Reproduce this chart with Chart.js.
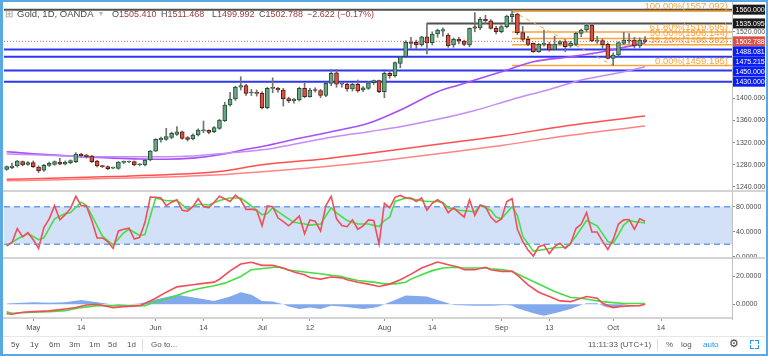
<!DOCTYPE html>
<html>
<head>
<meta charset="utf-8">
<script src="https://cdn.jsdelivr.net/npm/chart.js@4.4.1/dist/chart.umd.min.js"></script>
<style>
html,body{margin:0;padding:0;background:#fff;}
#wrap{position:relative;width:768px;height:356px;overflow:hidden;background:#fff;font-family:"Liberation Sans",Arial,sans-serif;}
#wrap canvas{position:absolute;left:0;}
.sep{position:absolute;background:#d4d4d4;}
.hd{position:absolute;top:8px;font-size:9px;line-height:12px;white-space:nowrap;color:#4a4a4a;}
.hd b{font-weight:normal;color:#973f3a;}
.tb{position:absolute;top:340px;font-size:8px;line-height:10px;color:#555;white-space:nowrap;}
#frame{position:absolute;left:0;top:0;width:768px;height:356px;box-sizing:border-box;border:2px solid #5aa9e4;border-left-width:3px;pointer-events:none;}
</style>
</head>
<body>
<div id="wrap">
<canvas id="cMain" width="768" height="191" style="top:0;width:768px;height:191px"></canvas>
<canvas id="cStoch" width="768" height="71" style="top:191px;width:768px;height:71px"></canvas>
<canvas id="cMacd" width="768" height="80" style="top:258px;width:768px;height:80px"></canvas>

<div class="sep" style="left:3px;top:190px;width:762px;height:2px"></div>
<div class="sep" style="left:3px;top:257px;width:762px;height:2px"></div>
<div class="sep" style="left:3px;top:317px;width:730px;height:2px"></div>
<div class="sep" style="left:732px;top:0;width:1px;height:320px;background:#c2c2c2"></div>
<div class="sep" style="left:3px;top:336px;width:762px;height:1px;background:#e6e6e6"></div>

<div class="hd" style="left:5px;color:#9a9a9a;font-size:10px">&#8862;</div>
<div class="hd" style="left:17px;font-size:9.5px">Gold, 1D, OANDA</div>
<div class="hd" style="left:99px;color:#b5b5b5;font-size:8px">&#9662;</div>
<div class="hd" style="left:112px">O<b>1505.410</b></div>
<div class="hd" style="left:161px">H<b>1511.468</b></div>
<div class="hd" style="left:212px">L<b>1499.992</b></div>
<div class="hd" style="left:259px">C<b>1502.788</b></div>
<div class="hd" style="left:307px"><b>&#8722;2.622 (&#8722;0.17%)</b></div>

<div class="tb" style="left:11px">5y</div>
<div class="tb" style="left:30px">1y</div>
<div class="tb" style="left:49px">6m</div>
<div class="tb" style="left:69px">3m</div>
<div class="tb" style="left:89px">1m</div>
<div class="tb" style="left:108px">5d</div>
<div class="tb" style="left:127px">1d</div>
<div class="sep" style="left:142px;top:339px;width:1px;height:12px;background:#dcdcdc"></div>
<div class="tb" style="left:151px">Go to...</div>
<div class="tb" style="left:588px">11:11:33 (UTC+1)</div>
<div class="sep" style="left:657px;top:339px;width:1px;height:12px;background:#dcdcdc"></div>
<div class="tb" style="left:666px">%</div>
<div class="tb" style="left:681px">log</div>
<div class="tb" style="left:703px;color:#2196f3">auto</div>
<div class="tb" style="left:729px;font-size:11px;top:338px;color:#444">&#9881;</div>
<div style="position:absolute;left:750px;top:340px;width:9px;height:9px;">
  <div style="position:absolute;left:0;top:0;width:3px;height:3px;border-left:1.5px solid #2196f3;border-top:1.5px solid #2196f3"></div>
  <div style="position:absolute;right:0;top:0;width:3px;height:3px;border-right:1.5px solid #2196f3;border-top:1.5px solid #2196f3"></div>
  <div style="position:absolute;left:0;bottom:0;width:3px;height:3px;border-left:1.5px solid #2196f3;border-bottom:1.5px solid #2196f3"></div>
  <div style="position:absolute;right:0;bottom:0;width:3px;height:3px;border-right:1.5px solid #2196f3;border-bottom:1.5px solid #2196f3"></div>
</div>
<div id="frame"></div>
</div>

<script>
// ---------------- DATA ----------------
const firstBar = -5; // first candle = 24 Apr 2019 (bar 0 = 1 May)
const O = [1271.7,1274.8,1277.8,1285.6,1280.8,1283.8,1276.0,1270.5,1279.0,1280.8,
 1285.0,1281.0,1283.8,1285.6,1298.8,1297.6,1295.8,1286.8,1277.8,1276.6,
 1274.0,1273.6,1284.5,1285.0,1285.6,1280.0,1279.6,1288.6,1304.8,1324.7,
 1325.9,1329.5,1334.9,1339.7,1328.9,1326.5,1333.7,1341.5,1342.0,1339.7,
 1345.8,1359.6,1388.0,1398.8,1420.0,1422.8,1409.5,1410.5,1409.0,1383.1,
 1418.0,1418.0,1415.0,1399.5,1395.7,1397.0,1418.0,1403.0,1415.0,1414.0,
 1405.0,1427.0,1446.0,1425.5,1425.0,1417.0,1425.0,1415.0,1418.0,1428.0,
 1431.8,1412.0,1445.0,1441.0,1463.0,1475.0,1501.0,1501.0,1497.0,1511.0,
 1500.5,1516.0,1521.0,1514.0,1496.5,1507.0,1503.4,1496.2,1529.0,1527.0,
 1542.5,1540.0,1526.3,1520.2,1529.3,1547.5,1552.0,1518.4,1506.4,1499.2,
 1484.1,1497.4,1498.0,1488.4,1498.0,1502.2,1494.4,1497.4,1517.2,1523.2,
 1532.3,1503.4,1504.2,1497.4,1472.1,1478.1,1499.2,1505.2,1505.2,1494.4,
 1505.41];
const H = [1278,1283,1288,1287,1286,1287,1278,1281,1285,1287,
 1291.6,1287,1289,1302,1300.5,1299,1297,1288,1279,1278,
 1276,1286,1287,1286.5,1287,1282,1290,1306,1327,1330,
 1345.8,1339,1348.8,1341,1331,1336,1345,1359,1343,1349,
 1362,1393,1411,1422,1439,1425,1416,1415,1412,1420,
 1437,1420,1418,1402,1400,1420,1428,1418,1419,1416,
 1428,1452,1452,1428,1427,1428,1433,1421,1430,1433,
 1433,1448,1450,1466,1475,1504,1510,1505,1512,1535.095,
 1520,1525,1527,1517,1509,1510,1505,1527,1554.5,1546,
 1550,1542,1530,1532,1550,1557.092,1554,1530,1512,1500,
 1499,1523,1501,1512,1504,1506,1503,1519,1525,1535,
 1535,1512,1507,1500,1482,1502,1519,1517,1510,1509,
 1511.468];
const L = [1270,1273,1276,1278,1279,1275,1266,1268,1277,1279,
 1280,1280,1282,1284,1294,1292,1284,1276,1275,1271,
 1273,1272,1282,1284,1278,1278,1278,1287,1304,1321,
 1324,1327,1333,1326,1323,1325,1332,1338,1336,1338,
 1344,1358,1386,1396,1415,1405,1405,1404,1381,1381,
 1410,1411,1386,1392,1391,1395,1401,1402,1411,1401,
 1403,1423,1420,1420,1413,1413,1411,1412,1416,1425,
 1410,1401,1436,1438,1455,1473,1490,1490,1494,1480,
 1496,1510,1512,1492,1492,1498,1495,1493,1520,1524,
 1535,1525,1516,1518,1527,1537,1515,1503,1495,1483,
 1483,1494,1485,1487,1496,1484.1,1492,1495,1511,1520,
 1502,1499,1490,1471,1459.195,1476,1497,1499,1491,1491,
 1499.992];
const C = [1276.6,1277.8,1286.8,1279.6,1283.8,1276.6,1269.3,1279.0,1282.6,1285.6,
 1281.0,1285.0,1287.4,1299.4,1296.4,1294.6,1285.6,1277.8,1276.6,1272.9,
 1274.8,1285.0,1285.5,1285.6,1279.6,1280.5,1288.6,1304.8,1325.9,1327.7,
 1330.7,1336.7,1339.7,1327.7,1325.9,1333.7,1342.7,1342.0,1338.5,1347.0,
 1360.8,1387.9,1398.8,1419.8,1423.0,1409.0,1410.5,1409.0,1383.1,1418.0,
 1418.6,1415.0,1399.5,1395.5,1398.8,1418.0,1403.0,1415.0,1414.0,1405.0,
 1427.0,1445.0,1425.5,1426.0,1417.0,1425.0,1413.2,1419.0,1428.0,1431.8,
 1412.0,1445.0,1441.0,1464.3,1475.0,1501.0,1499.0,1496.5,1511.0,1500.0,
 1516.0,1523.0,1524.0,1495.0,1506.4,1503.4,1497.4,1526.3,1526.5,1542.5,
 1540.0,1526.3,1520.2,1529.3,1548.5,1552.0,1518.4,1506.4,1497.4,1484.1,
 1497.4,1499.2,1487.2,1498.0,1502.2,1493.2,1499.2,1517.2,1523.2,1532.3,
 1503.4,1504.2,1496.2,1472.1,1478.1,1500.4,1505.2,1503.4,1494.4,1505.2,
 1502.788];

// moving averages (bar, value)
const maA_bars = [-5,0,5,10,15,20,25,30,35,40,43,50,56,63,69,76,80,83,88,94,101,107,113,115];
const maA_vals = [1303.6,1300,1297,1294,1292,1290.5,1290,1292,1298,1308,1313,1327.8,1339.7,1354.9,1378.9,1411.9,1424,1433,1448,1466,1475,1484,1496,1500];
const maB_bars = [-5,0,5,10,15,20,25,30,35,40,43,50,56,63,69,76,83,90,97,103,111,115];
const maB_vals = [1299.5,1298,1296.5,1295,1294.5,1294.5,1294.5,1296,1300,1304,1307,1318.8,1329.6,1339.7,1348.7,1362,1378,1398,1416,1433,1448,1457];
const maC_bars = [-5,5,15,25,35,43,55,65,76,88,100,115];
const maC_vals = [1253.8,1256,1259,1262,1268,1280,1291,1303,1317,1332,1350,1368];
const maD_bars = [-5,5,15,25,35,43,55,65,76,88,100,115];
const maD_vals = [1251.3,1253,1255.5,1258,1262,1267.5,1277,1287,1300,1315,1332,1350];

// drawn levels
const grayLevels = [1560.000, 1535.095];
const grayStartBars = [null, 74];
const blueLevels = [1488.081, 1475.215, 1450.000, 1430.000];
const lastPrice = 1502.788;
const fibPrices = [1557.092, 1519.695, 1508.144, 1496.592, 1459.195];
const fibNames = ['100.00%', '61.80%', '50.00%', '38.20%', '0.00%'];
const fibStartBar = 90, fibEndBar = 109;

// stochastic
const stochK = [17.2,22.8,45.0,31.6,38.3,27.2,13.3,46.7,60.5,81.7,
 58.9,67.2,77.2,96.6,81.7,81.1,57.8,30.0,30.0,24.0,
 13.3,41.1,43.9,45.5,28.3,31.1,55.0,95.5,95.0,93.9,
 81.7,87.2,91.1,74.4,72.8,80.0,92.8,80.0,78.3,87.2,
 96.6,92.8,88.3,98.5,91.1,75.5,76.1,74.4,49.4,81.1,
 80.0,62.2,56.1,49.4,57.0,65.0,36.7,58.9,56.7,41.1,
 81.7,96.6,60.5,50.0,48.0,58.9,43.9,49.4,58.9,57.8,
 20.5,85.5,78.3,95.0,98.0,93.9,93.9,88.3,93.9,74.4,
 85.5,91.1,85.5,70.5,78.3,70.5,63.3,91.1,66.1,82.8,
 80.0,63.3,55.0,60.5,88.3,92.8,43.9,24.4,10.5,1.0,
 16.1,18.9,5.0,16.1,21.6,13.3,20.5,45.0,52.2,70.5,
 39.4,39.4,24.4,11.6,27.2,52.2,58.9,59.4,43.9,60.5,
 56.7];
const stochD_bars = [-5,-3,-1,1,2,4,6,7,9,10,11,13,15,17,18,20,21,23,25,27,29,31,33,35,37,39,41,43,44,45,47,49,51,52,54,56,57,59,61,63,65,66,67,68,70,72,74,76,77,78,79,80,82,83,84,86,87,88,90,91,92,94,96,98,100,101,102,104,106,108,109,110,111,112,113,114,115];
const stochD_vals = [17.2,28.3,37.2,27.2,30,60.5,68.9,70.5,87.2,81.7,66.1,32.8,18.9,38.3,43.9,33.9,35.5,93.9,89.4,90,76.1,83.9,82.8,90,93.9,93.9,81.1,67.2,68.9,78.3,66.1,55,52.2,50.5,52.2,78.3,70,57.8,52.2,52.2,48.3,57.8,63.3,88.3,93.9,91.1,88.3,88.3,86.7,78.3,76.1,74.4,72.8,71.7,81.7,74.4,63.3,60.5,80,66.1,32.8,8.9,11.6,14.4,15,21.6,32.8,57.8,49.4,24.4,21.6,35.5,50.5,57.8,56.1,55,53.9];
const stochBand = [20, 80];

// MACD
const macd_bars = [-5,-4,-2,0,3,6,8,10,12,15,17,20,21,23,25,27,30,32,34,35,37,39,41,43,45,47,49,51,52,54,56,58,59,61,63,65,67,69,71,73,75,76,78,80,81,83,85,86,88,90,91,93,95,97,99,101,102,104,106,107,109,110,112,114,115];
const macd_vals = [-6.8,-7.2,-5.8,-5.3,-4.8,-3.4,-2.4,-0.5,0,-2.4,-1.7,-1,0.5,4.3,8.7,12.5,14,15,15.9,18,24,29,30.2,28,28,26.1,23.2,21.3,19.3,18.1,19.6,19,17.6,15.9,14.5,12.8,14.5,17.6,21.7,26.1,29,30.4,28.5,26.6,24.9,24.9,26.6,24.9,23.7,23.7,21,14,8.7,5.6,2.4,1.9,3.1,5.6,4.3,0.7,-2.4,-1.7,-1.2,-1,0];
const signal_bars = [-5,-4,0,3,6,9,12,16,19,21,23,26,29,31,34,36,39,41,44,46,48,51,54,56,58,59,61,64,66,68,70,71,73,75,77,79,81,83,85,86,88,90,92,94,96,98,100,101,103,105,107,109,111,115];
const signal_vals = [-5.5,-6.5,-5.8,-5.3,-4.6,-2.4,-1,-1,-1,-1,1.9,4.8,9.2,11.1,13.3,15.2,20,24.9,26.1,26.8,24.6,23.2,22,20.8,20,18.8,17.1,15.9,14.7,14.7,15.9,18.1,21.3,24.2,26.1,26.6,26.1,26.1,26.1,25.6,24.9,23.7,20,16.4,12.8,9.2,6.3,4.8,4.3,3.1,1.9,1.2,0.5,0.5];
const hist_bars = [-5,-2,0,3,6,9,12,14,16,18,20,22,24,27,31,34,37,39,41,43,45,47,48,50,52,54,56,58,60,62,64,65,66,68,70,74,76,78,79,83,86,89,90,91,94,96,98,101,103,104,106,107,108,110,111,112,115];
const hist_vals = [0.5,1,1.4,1,1.5,3.1,1.5,0.3,-0.5,0,0.5,2.5,4.3,6.8,4.3,2.4,5.6,8.7,6.8,2.4,1.9,0,-1.7,-3.4,-2.4,-3.4,-1,-1.7,-2.5,-3.4,-2.5,-1.7,0,3.1,6.3,5.6,3.1,0.7,-0.5,-1,-1,-0.5,-1,-2.9,-6.5,-8.2,-6.5,-3.4,-0.5,0.7,0.7,-1,-2.4,-2.4,-0.5,0,0];

// axes
const priceTicks = [1240, 1280, 1320, 1360, 1400, 1520];
const stochTicks = [0, 40, 80];
const macdTicks = [0, 20];
const tickBars = [0, 9, 23, 32, 43, 52, 66, 75, 88, 97, 109, 118];
const tickLabels = ['May', '14', 'Jun', '14', 'Jul', '12', 'Aug', '14', 'Sep', '13', 'Oct', '14'];

// ---------------- LAYOUT / STYLE ----------------
const XMIN = -5.5, XMAX = 131.34;
const FONT = '"Liberation Sans", Arial, sans-serif';
const UP = '#6ba583', UPB = '#225437', DN = '#d75442', DNB = '#5b1a13', WICK = '#737375';
const ORANGE = '#f6a43c';

const bars = O.map((_, i) => firstBar + i);
const pts = (xs, ys) => xs.map((x, i) => ({x, y: ys[i]}));

function xAxis(show) {
  const ax = {
    type: 'linear', min: XMIN, max: XMAX, offset: false, display: show,
    grid: {drawOnChartArea: false, tickLength: 3, color: '#9a9a9a'},
    border: {display: false},
    afterFit: s => { s.paddingLeft = 0; s.paddingRight = 0; if (show) s.height = 20; }
  };
  if (show) {
    ax.afterBuildTicks = s => { s.ticks = tickBars.map(v => ({value: v})); };
    ax.ticks = {autoSkip: false, maxRotation: 0, padding: 2, color: '#4a4a4a',
      font: {size: 7.5, family: FONT}, callback: (v, i) => tickLabels[i]};
  }
  return ax;
}
function yAxis(min, max, ticks, dec) {
  return {
    type: 'linear', position: 'right', min, max,
    afterBuildTicks: s => { s.ticks = ticks.map(v => ({value: v})); },
    afterFit: s => { s.width = 36; s.paddingTop = 0; s.paddingBottom = 0; },
    ticks: {padding: 1, color: '#4a4a4a', font: {size: 7, family: FONT}, callback: v => Number(v).toFixed(dec)},
    grid: {drawOnChartArea: false, tickLength: 3, color: '#8a8a8a'},
    border: {display: false}
  };
}
const baseOpts = {responsive: false, animation: false, devicePixelRatio: 1, events: [],
  plugins: {legend: {display: false}, tooltip: {enabled: false}}};

// ---------------- MAIN OVERLAY ----------------
const mainOverlay = {
  id: 'mainOverlay',
  beforeDatasetsDraw(chart) {
    const {ctx, chartArea: a, scales: {x, y}} = chart;
    ctx.save();
    ctx.beginPath(); ctx.rect(a.left, 0, a.right - a.left, a.bottom); ctx.clip();
    const hl = (p, x0, color, w, dash) => {
      const yy = y.getPixelForValue(p);
      ctx.strokeStyle = color; ctx.lineWidth = w; ctx.setLineDash(dash || []);
      ctx.beginPath(); ctx.moveTo(x0, yy); ctx.lineTo(a.right, yy); ctx.stroke();
    };
    blueLevels.forEach(p => hl(p, a.left, '#2e36f0', 2));
    grayLevels.forEach((p, i) => hl(p, grayStartBars[i] === null ? a.left : x.getPixelForValue(grayStartBars[i]), '#4f4f4f', 2));
    const fx0 = x.getPixelForValue(fibStartBar);
    fibPrices.forEach(p => hl(p, fx0, ORANGE, 1.5));
    ctx.setLineDash([4, 4]); ctx.lineWidth = 1; ctx.strokeStyle = ORANGE;
    ctx.beginPath();
    ctx.moveTo(fx0, y.getPixelForValue(fibPrices[0]));
    ctx.lineTo(x.getPixelForValue(fibEndBar), y.getPixelForValue(fibPrices[fibPrices.length - 1]));
    ctx.stroke();
    hl(lastPrice, a.left, '#e0605a', 1, [1, 2]);
    ctx.restore();
  },
  afterDraw(chart) {
    const {ctx, chartArea: a, scales: {y}} = chart;
    ctx.save();
    // fib labels
    ctx.font = '9.5px ' + FONT; ctx.fillStyle = ORANGE; ctx.textAlign = 'right'; ctx.textBaseline = 'alphabetic';
    fibPrices.forEach((p, i) => {
      ctx.fillText(fibNames[i] + '(' + p.toFixed(3) + ')', a.right - 4, y.getPixelForValue(p) - 2);
    });
    // price boxes
    const boxes = [];
    grayLevels.forEach(p => boxes.push({p, c: '#1b1b1b'}));
    boxes.push({p: lastPrice, c: '#d9534a'});
    blueLevels.forEach(p => boxes.push({p, c: '#0c1ff2'}));
    boxes.forEach(b => b.y = y.getPixelForValue(b.p));
    boxes.sort((m, n) => m.y - n.y);
    for (let i = 1; i < boxes.length; i++) boxes[i].y = Math.max(boxes[i].y, boxes[i - 1].y + 10);
    ctx.font = '7px ' + FONT; ctx.textAlign = 'left'; ctx.textBaseline = 'middle';
    boxes.forEach(b => {
      ctx.fillStyle = b.c; ctx.fillRect(a.right, b.y - 5, 33, 10);
      ctx.fillStyle = '#ffffff'; ctx.fillText(b.p.toFixed(3), a.right + 3.5, b.y + 0.5);
    });
    ctx.restore();
  }
};

// ---------------- MAIN CHART ----------------
new Chart(document.getElementById('cMain'), {
  type: 'bar',
  data: {datasets: [
    {type: 'line', data: pts(maD_bars, maD_vals), borderColor: '#ff8585', borderWidth: 1.5, pointRadius: 0, cubicInterpolationMode: 'monotone', order: 6},
    {type: 'line', data: pts(maC_bars, maC_vals), borderColor: '#ff4f4f', borderWidth: 1.5, pointRadius: 0, cubicInterpolationMode: 'monotone', order: 6},
    {type: 'line', data: pts(maB_bars, maB_vals), borderColor: '#c58cf7', borderWidth: 1.5, pointRadius: 0, cubicInterpolationMode: 'monotone', order: 5},
    {type: 'line', data: pts(maA_bars, maA_vals), borderColor: '#a650f5', borderWidth: 1.6, pointRadius: 0, cubicInterpolationMode: 'monotone', order: 5},
    {type: 'bar', data: bars.map((b, i) => ({x: b, y: [L[i], H[i]]})), backgroundColor: WICK, barThickness: 1, grouped: false, order: 2},
    {type: 'bar', data: bars.map((b, i) => ({x: b, y: [O[i], C[i]]})),
      backgroundColor: C.map((c, i) => c >= O[i] ? UP : DN),
      borderColor: C.map((c, i) => c >= O[i] ? UPB : DNB),
      borderWidth: 1, borderSkipped: false, barThickness: 4, minBarLength: 1, grouped: false, order: 1}
  ]},
  options: Object.assign({}, baseOpts, {
    layout: {padding: {left: 4, top: 3, right: 0, bottom: 0}},
    scales: {x: xAxis(false), y: yAxis(1232.7, 1572.0, priceTicks, 3)}
  }),
  plugins: [mainOverlay]
});

// ---------------- STOCH CHART ----------------
const bandPlugin = {
  id: 'band',
  beforeDatasetsDraw(chart) {
    const {ctx, chartArea: a, scales: {y}} = chart;
    const y1 = y.getPixelForValue(stochBand[1]), y0 = y.getPixelForValue(stochBand[0]);
    ctx.save();
    ctx.fillStyle = '#d2e1f8';
    ctx.fillRect(a.left, y1, a.right - a.left, y0 - y1);
    ctx.strokeStyle = '#6d9cec'; ctx.lineWidth = 1.5; ctx.setLineDash([6, 4]);
    [y1, y0].forEach(yy => { ctx.beginPath(); ctx.moveTo(a.left, yy); ctx.lineTo(a.right, yy); ctx.stroke(); });
    ctx.restore();
  }
};
new Chart(document.getElementById('cStoch'), {
  type: 'line',
  data: {datasets: [
    {data: pts(bars, stochK), borderColor: '#f24e58', borderWidth: 1.6, pointRadius: 0, order: 1},
    {data: pts(stochD_bars, stochD_vals), borderColor: '#45df45', borderWidth: 1.6, pointRadius: 0, order: 2}
  ]},
  options: Object.assign({}, baseOpts, {
    layout: {padding: {left: 4, top: 0, right: 0, bottom: 4}},
    scales: {x: xAxis(false), y: yAxis(-2.1, 105.1, stochTicks, 4)}
  }),
  plugins: [bandPlugin]
});

// ---------------- MACD CHART ----------------
new Chart(document.getElementById('cMacd'), {
  type: 'line',
  data: {datasets: [
    {data: pts(hist_bars, hist_vals), borderColor: 'rgba(0,0,0,0)', borderWidth: 0, backgroundColor: 'rgba(88,140,230,0.75)', fill: 'origin', pointRadius: 0, order: 3},
    {data: pts(signal_bars, signal_vals), borderColor: '#45df45', borderWidth: 1.6, pointRadius: 0, order: 2},
    {data: pts(macd_bars, macd_vals), borderColor: '#f24e58', borderWidth: 1.6, pointRadius: 0, order: 1}
  ]},
  options: Object.assign({}, baseOpts, {
    layout: {padding: {left: 4, top: 0, right: 0, bottom: 0}},
    scales: {x: xAxis(true), y: yAxis(-9.9, 33.3, macdTicks, 4)}
  })
});
</script>
</body>
</html>
